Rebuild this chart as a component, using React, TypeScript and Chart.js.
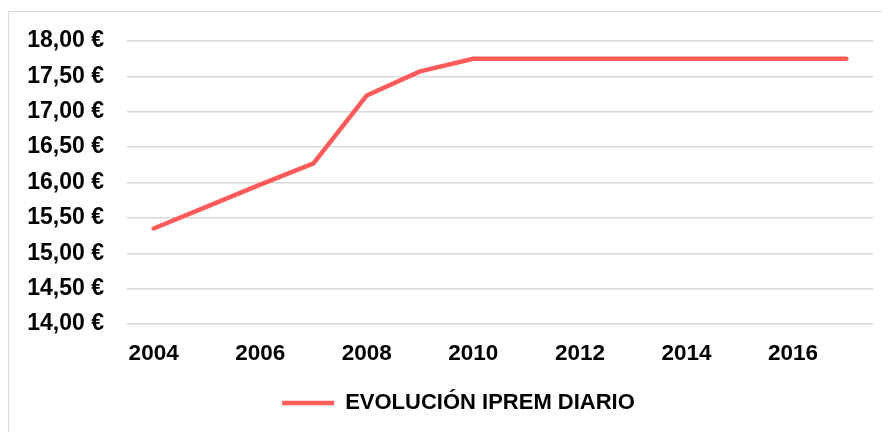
import React, { useEffect, useRef } from "react";
import { Chart, registerables } from "chart.js";

Chart.register(...registerables);

const years = ["2004", "2005", "2006", "2007", "2008", "2009", "2010", "2011", "2012", "2013", "2014", "2015", "2016", "2017"];
const ipremDiario = [15.35, 15.66, 15.97, 16.27, 17.23, 17.57, 17.75, 17.75, 17.75, 17.75, 17.75, 17.75, 17.75, 17.75];
const seriesLabel = "EVOLUCIÓN IPREM DIARIO";
const yMin = 14;
const yMax = 18;
const yStep = 0.5;

const FONT = "'Liberation Sans', Arial, sans-serif";
const LINE = "#ff5b5b";

const legendShift = {
  id: "legendShift",
  afterLayout(chart: any) {
    const l = chart.legend;
    if (l) {
      l.left += 8.5;
      l.right += 8.5;
    }
  },
};

export default function App() {
  const ref = useRef<HTMLCanvasElement | null>(null);

  useEffect(() => {
    document.body.style.overflow = "hidden";
    if (!ref.current) return;
    const chart = new Chart(ref.current, {
      type: "line",
      data: {
        labels: years,
        datasets: [
          {
            label: seriesLabel,
            data: ipremDiario,
            borderColor: LINE,
            backgroundColor: LINE,
            borderWidth: 4.5,
            borderCapStyle: "round",
            borderJoinStyle: "round",
            pointRadius: 0,
            pointHoverRadius: 0,
            tension: 0,
            fill: false,
          },
        ],
      },
      plugins: [legendShift],
      options: {
        responsive: false,
        animation: false,
        layout: { padding: { left: 18, right: 51, top: 29, bottom: 18 } },
        plugins: {
          tooltip: { enabled: false },
          legend: {
            position: "bottom",
            labels: {
              usePointStyle: true,
              pointStyle: "line",
              pointStyleWidth: 52,
              color: "#000",
              font: { family: FONT, size: 22, weight: "bold" },
              padding: 10,
            },
          },
        },
        scales: {
          x: {
            offset: true,
            grid: { display: false, drawTicks: false },
            border: { display: false },
            ticks: {
              autoSkip: false,
              maxRotation: 0,
              padding: 16,
              color: "#000",
              font: { family: FONT, size: 22.5, weight: "bold" },
              callback: (_v: any, i: number) => (i % 2 === 0 ? years[i] : ""),
            },
            afterFit: (s: any) => {
              s.height = 58;
              s.paddingLeft = 0;
              s.paddingRight = 0;
            },
          },
          y: {
            min: yMin,
            max: yMax,
            grid: { color: "#d9d9d9", lineWidth: 1.5, drawTicks: false },
            border: { display: false },
            ticks: {
              stepSize: yStep,
              padding: 23,
              color: "#000",
              font: { family: FONT, size: 23, weight: "bold" },
              callback: (v: any) => Number(v).toFixed(2).replace(".", ",") + " €",
            },
            afterFit: (s: any) => {
              s.width = 100;
              s.paddingTop = 0;
              s.paddingBottom = 0;
            },
          },
        },
      },
    });
    return () => chart.destroy();
  }, []);

  return (
    <div style={{ paddingTop: 3 }}>
      <div style={{ border: "1px solid #d9d9d9", width: 915, height: 430 }}>
        <canvas ref={ref} width={915} height={430} style={{ display: "block" }} />
      </div>
    </div>
  );
}
